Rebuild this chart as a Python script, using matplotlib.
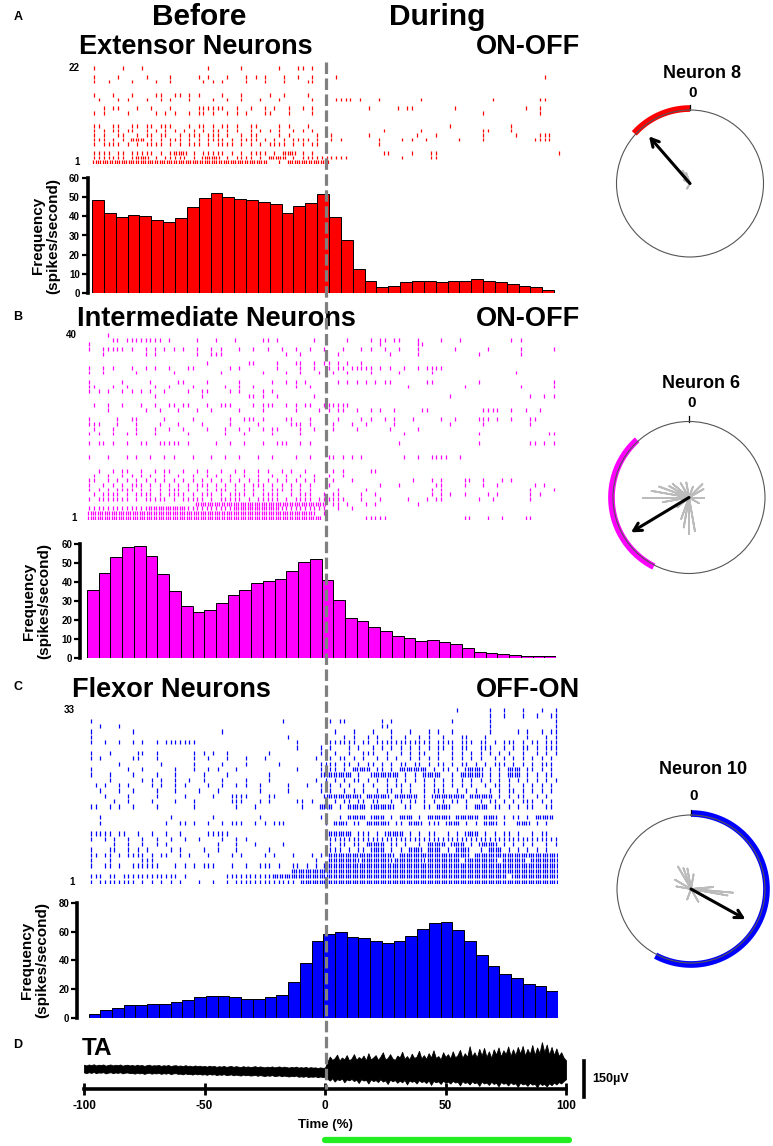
import matplotlib
matplotlib.use('Agg')
import matplotlib.pyplot as plt
from matplotlib.lines import Line2D
import numpy as np

plt.rcParams['font.family'] = ['Liberation Sans', 'DejaVu Sans']

# ---------------- data ----------------
bin_edges = list(range(-100, 101, 5))

freq_extensor = [48.4, 42, 39.9, 40.9, 40.2, 38.1, 36.9, 39.2, 44.8, 49.5,
                 52.1, 50.3, 49, 48.6, 47.4, 46.3, 41.6, 45.3, 47, 51.6,
                 39.9, 27.6, 12.4, 6, 3, 3.5, 5.5, 6, 6, 5.5,
                 6, 6, 7, 6, 5.5, 4.5, 3.5, 2.8, 1.2, 0.1]
freq_intermediate = [35.6, 44.7, 53.2, 58.6, 59.2, 53.5, 44.4, 35, 27.3, 23.9,
                     25.2, 28.9, 32.9, 35.9, 39.3, 40.7, 41.4, 46, 50.4, 52.1,
                     40.8, 30.3, 21.1, 19.2, 16.4, 13.9, 11.6, 10.4, 8.8, 9.2,
                     8.5, 7, 4.9, 3, 2.3, 1.8, 1.6, 1.1, 0.9, 0.9]
freq_flexor = [2.4, 5.2, 7, 8.5, 8.8, 9.2, 9.5, 11, 12.5, 14.3,
               15.4, 15.4, 14.3, 13.3, 13.3, 14.3, 15.9, 25.2, 37.9, 53.7,
               58.4, 59.8, 56.3, 55.4, 53.3, 52.3, 53.5, 57.2, 62.1, 66.1,
               66.6, 61.2, 53.3, 43.5, 36, 30.8, 27.6, 23.4, 22, 18.5]

# raster rows (row 1 first); tokens are 2%-bin indices 0..99 over -100..100 %
# "i" one spike, "a~b" one spike per bin, "a-b" dense (two per bin)
raster_extensor = [
    "0-36 39 41-49",
    "0~6 8 9-11 13 15~19 21 23-26 28 30~33 35 37-40 42 44~47 48 49 50 51 52 53 65 71 72",
    "0~3 5 6 8~12 14 16 17-19 21 23~27 29 31 33~36 38 40-42 44 46 61 62 67 71 72 98",
    "",
    "0 2~5 7 9 11~14 16 18 20~22 24 26~29 31 33 35 37~40 42 44 46 47 60",
    "0~2 4 6 8-10 12 14 16~18 20 22 24~27 29 31~34 36 38 40 42~45 47 50 52 60 65 67 70 77 82 93 94 95 96",
    "0 2 5 6 9 11 12 14 15 18 20 21 22 24 25 26 28 31 33 34 39 41 47 50 58 68 72 82 89 94 95 96",
    "0 2 4 5 7 8 11 13 15 17 19 21 23 25 26 28 30 33 35 37 39 42 44 46 61 69 82 83 88",
    "0 1 4 5 8 9 11 12 14 15 16 20 22 23 25 27 28 30 33 34 39 41 45 75 88",
    "",
    "",
    "0 2 7 13 15 17 20 22 23 25 28 30 32 36 37 41 46 82 94",
    "2 4 5 9 12 16 22 23 24 25 26 27 30 33 36 38 41 44 46 58 64 66 67 76 91 94",
    "",
    "1 5 7 11 14 16 20 25 28 31 35 39 46 51 52 53 54 56 60 69 84 94 95",
    "0 4 8 13 14 17 18 20 22 27 31 37 40 45",
    "",
    "",
    "0 3 8 13 16 23 25 27 32 36 40 45 46",
    "0 5 11 16 22 24 28 32 34 36 40 43 46 51 95",
    "",
    "0 6 10 24 31 39 43 44 46",
]

raster_intermediate = [
    "0-49 59 60 61 62 63 80 81 85 88 93 94",
    "0-47 48 50",
    "0~12 13-20 21~30 31-40 41~50 53 56",
    "23-50 52 53 55 59 61 70",
    "0 2~8 10 12~16 18 20~24 26 28~32 34 36~40 42 44~47 49 50 51 52 53 54 58 62 68 72 74 75 83 86 94",
    "1 3~6 8 10~13 15 17~20 22 24~26 28 30~33 35 37~40 43 45~47 50 52 53 58 61 73 75 77 80 85 87 94 96",
    "0 2 4 6~9 11 13 15 17~19 21 23 25 27~29 31 33 35 37 39~41 43 45 47 53 59 73 75 94 99",
    "0 3 5 7 9~11 13 15 17 19 21 23~25 27 29 31 33 35~37 39 41 43 45 47 51 62 66 74 75 80 84 87 95 97",
    "0 1 4 6 8 10 12 14 16 18 20 22 24 26 28 30 32 34 36 38 40 42 44 46 48 52 56 69 73 75 80 81 84 88 90",
    "1 4 7 9 11 13 16 19 22 25 27 30 33 36 39 42 45 48 51 54",
    "2 5 7 8 11 14 16 17 20 23 25 28 31 33 36 38 41 43 46 52 54 60 61",
    "",
    "",
    "0 4 8 10 13 16 18 22 26 29 32 36 39 44 47 51 52 54 56 58 67 70 73 74 75 76 79",
    "",
    "",
    "0 2 3 5 8 11 12 15 16 17 18 19 21 27 30 33 37 40 41 42 45 47 66 83 94 95 97 99",
    "",
    "0 2 5 8 10 14 21 29 33 39 45 67 83 98 99",
    "1 5 10 14 17 20 25 29 32 34 37 39 40 45 48 52 57 64 70",
    "0 1 2 6 10 15 19 24 30 36 43 44 45 47 52 56 59 65 77 84 94",
    "0 6 9 10 16 22 30 33 34 35 37 42 43 47 53 58 60 63 65 69 75 78 83 84 85 87 90 94 95",
    "",
    "4 12 15 19 23 26 32 37 44 49 51 53 54 57 60 62 65 71 72 84 85 86 87 90 93 96",
    "1 4 7 11 14 17 18 20 21 25 28 29 30 35 37 38 39 42 44 46 47 50 51 52 53 54 55",
    "",
    "14 24 34 35 37 40 48 77 94 97 99",
    "0 2 4 7 9 11 13 16 21 24 25 30 32 37 39",
    "0 1 5 8 14 17 22 29 32 35 44 47 68 80 92 99",
    "0 7 13 19 20 25 32 39 42 44 46 53 55 57 59 61 63 64 72 73 83 99",
    "",
    "0 3 10 18 28 37 42 45 49 52 55 60 66 73 91",
    "0 3 5 9 12 14 17 21 22 30 32 40 45 48 51 53 54 56 57 58 59 60 62 64 67 70 72 73 74 75",
    "25 34 35 40 44 45 48 50 51 53 55 58",
    "",
    "3 12 14 23 26 27 28 42 45 53 64 70 83 92",
    "0 3 4 5 6 7 9 12 14 16 18 20 23 26 28 32 35 38 41 44 47 50 54 58 60 63 66 70 78 85 92 99",
    "0 62 70 71",
    "5 6 8 9 10 11 12 13 14 15 17 23 27 31 37 38 40 48 55 60 62 63 65 66 70 75 79 90 92",
    "4",
]

raster_flexor = [
    "0 2~9 11 13 15 17 19 23 26 29 31~43 45-99",
    "0~2 4 5 7~18 20 29~38 39-50 51-88 90-99",
    "43-99",
    "0 3 4 6 9 10 11 12 13 14 18 20 22 24 25 26 30 33 36 37 38 40 43 44 46 48 50-99",
    "0 4 11 12 13 48 51-56 57 58-63 64 65-70 71 72-78 80-86 88-92 94-99",
    "0 1 3 4 6 8 9 10 11 13 15 16 19 21 25 30 32 37 39 43 47 49 51-64 66-80 82-99",
    "0 4 5 8 10 12 17 19 24 27 31 38 51 52 53 55 57 58 60-62 64 66 68-70 72-74 76 78-80 83 85-87 89 91 93 95 97",
    "5 8 11 14 16 27 31 35 41 51 53 54 56 57 59-62 64 65 67 70 72-75 77-79 81 83-86 88 90 92 94 97 99",
    "0 3 5 8 11 14 17 20 23 28 31 33 51~99",
    "0 1 2 3 4 6 7 10 13 16 19 25 26 27 28 29 51-55 57 58 59 61 63-66 68 70 72 73 76 78 80-82 84 86 88 89 91 94 96 97",
    "",
    "2 16 19 20 22 25 28 30 31 32 35 37 39 40 41 50 52-54 56 57 59-63 65 66 68-70 72 73 74 76-78 80 82 84-86 88 91-93 95 97",
    "2 17 26 36 49 50 53 55-58 60-62 64 66-68 70 72-76 78-82 84-86 88 90 91 93 95-98",
    "",
    "0 1 4 6 9 14 22 31 35 45 49-51 53 55-58 60-64 67 68 71 72 74-76 80 82-84 86 87 89 91 93 94 97 98",
    "5 8 13 18 22 30 31 32 36 38 44 45 47 50 52 54 55 57 58 60 61 64 66 68 69 71 73 75 77 78 80 83 85 86 88 90 92 93 94 96 98",
    "3 8 14 20 26 30 31 32 33 38 39 50-57 59-63 65-69 71 73-79 81-85 87 89 91 92 95 97",
    "2 6 9 14 18 23 27 36 42 49 51 54 56 58 61 63 64 66 68 71 73 74 75 78 80 82 85 87 89 90 92 94 96 98",
    "1 3 6 8 13 15 18 20 25 28 31 33 36 42 46 49 51 53 55 58 60 63 65 66 68 71 73 75 77 79 81 84 86 87 89 92 94 96 98",
    "4 11 13 15 18 21 24 28 33 38 48 50 52 54 56 57 59 61 63 65 67 69 71 73 75 77 79 81 83 85 87 89 91 93 95 97 99",
    "0 4 9 14 18 24 29 38 49 50-55 57 60-65 67 69 71-74 77 79-83 85 87 89-91 93 95 97 98",
    "0 8 11 18 22 25 27 31 44 49 51 52 54 56-59 61 62 64 66-71 73 75 76 78 80-83 85 87 89-91 93 94 96 98",
    "6 15 22 28 33 40 49 50 51 52 54 55 57 59 60 62 64 66 67 69 70 72 74 75 77 79 80 82 84 86 87 88 90 92 94 96 97 98",
    "0 2 9 10 14 22 25 29 33 37 48 51 53 54 56 58 61 63 65 68 70 72 74 77 79 81 83 86 88 90 92 94 96 98",
    "0 4 10 11 14 22 24 26 29 38 49 52 55 58 59 60 63 66 68 70 71 74 77 79 81 83 85 87 89 92 95 97 99",
    "44 49 51 55 57 60 62 64 66 68 70 72 74 75 77 79 80 83 84 85 88 90 92 93 95 97 98 99",
    "0 3 6 9 11 14 16 17 18 19 20 21 22 44 51 52 53 54 55 56 58 59 61 62 63 64 65 66 67 68 69 70 71 72 74 75 76 77 79 80 81 83 84 86 88 89 90 92 94 95 97 98 99",
    "0 42 54 56 59 61 64 67 70 72 75 79 80 84 93 97 99",
    "0 9 28 52 56 60 64 68 72 74 77 85 91 93 96 98 99",
    "2 6 62 63 85 99",
    "0 41 51 53 54 62 64 77 85 99",
    "85 88 92 95 98 99",
    "78 85 88 92 96 99",
]

# TA EMG envelope (microvolts) at 1 % steps, -100..0 and 1..100
emg_upper_before = [18, 15, 19, 16, 20, 15, 18, 17, 19, 14,
                    17, 19, 15, 18, 16, 19, 14, 17, 18, 15,
                    17, 14, 18, 15, 17, 13, 16, 18, 14, 16,
                    15, 17, 13, 16, 14, 17, 12, 15, 16, 13,
                    15, 12, 16, 13, 14, 11, 15, 12, 14, 11,
                    13, 10, 14, 11, 13, 9, 12, 10, 13, 9,
                    11, 13, 9, 12, 10, 8, 12, 9, 11, 8,
                    10, 12, 8, 11, 9, 7, 10, 8, 11, 7,
                    9, 11, 7, 10, 8, 6, 9, 7, 10, 6,
                    8, 6, 9, 5, 8, 6, 7, 4, 7, 5, 6]
emg_lower_before = [-14, -17, -13, -16, -12, -17, -14, -15, -13, -18,
                    -15, -13, -17, -14, -16, -13, -18, -15, -14, -17,
                    -16, -19, -15, -18, -16, -20, -17, -15, -19, -17,
                    -18, -16, -20, -17, -19, -16, -21, -18, -17, -20,
                    -19, -22, -18, -21, -20, -23, -19, -22, -20, -23,
                    -21, -24, -20, -23, -21, -25, -22, -24, -21, -25,
                    -24, -22, -26, -23, -25, -27, -23, -26, -24, -27,
                    -26, -24, -28, -25, -27, -29, -26, -28, -25, -29,
                    -28, -26, -30, -27, -29, -31, -28, -30, -27, -32,
                    -30, -32, -29, -33, -31, -32, -30, -34, -31, -33, -32]
emg_upper_during = [30, 52, 38, 45, 60, 35, 48, 40, 58, 36,
                    44, 62, 38, 50, 42, 56, 36, 66, 40, 48,
                    58, 38, 52, 70, 40, 46, 62, 44, 38, 56,
                    48, 72, 42, 54, 40, 64, 46, 52, 76, 44,
                    58, 42, 66, 48, 78, 46, 54, 40, 70, 50,
                    62, 44, 74, 48, 58, 80, 46, 66, 50, 95,
                    52, 70, 48, 84, 56, 88, 50, 74, 46, 82,
                    60, 90, 52, 78, 62, 94, 54, 82, 58, 92,
                    64, 96, 56, 84, 62, 100, 58, 90, 66, 112,
                    70, 102, 60, 92, 58, 86, 54, 70, 48, 36]
emg_lower_during = [-40, -48, -38, -52, -42, -46, -39, -55, -43, -47,
                    -41, -50, -44, -58, -42, -48, -45, -60, -43, -50,
                    -46, -54, -42, -52, -47, -62, -44, -51, -46, -57,
                    -48, -55, -45, -64, -47, -53, -49, -60, -46, -54,
                    -50, -58, -47, -66, -49, -55, -51, -62, -48, -57,
                    -52, -60, -49, -56, -53, -68, -50, -58, -54, -64,
                    -51, -59, -55, -70, -52, -60, -56, -66, -53, -62,
                    -57, -72, -54, -61, -58, -68, -55, -63, -59, -74,
                    -56, -64, -60, -70, -57, -65, -61, -76, -58, -66,
                    -62, -72, -59, -67, -56, -64, -54, -60, -50, -42]

# circular plots: arc (deg, clockwise from 0), mean vector, rose petals
neuron_names = ["Neuron 8", "Neuron 6", "Neuron 10"]
arc_ranges = [(312, 360), (207, 318), (0, 208)]
vector_angles = [319, 239, 119]
vector_lengths = [0.85, 0.89, 0.84]
petals_n8 = [(320, 0.22), (330, 0.2), (340, 0.15), (300, 0.1), (210, 0.08)]
petals_n6 = [(270, 0.6), (280, 0.5), (290, 0.42), (260, 0.35), (300, 0.3), (310, 0.28),
             (330, 0.22), (350, 0.2), (20, 0.15), (45, 0.25), (60, 0.22), (90, 0.2),
             (120, 0.15), (170, 0.45), (180, 0.48), (190, 0.4), (200, 0.3), (230, 0.2)]
petals_n10 = [(95, 0.57), (100, 0.5), (85, 0.3), (330, 0.35), (340, 0.3), (350, 0.28),
              (10, 0.2), (300, 0.25), (280, 0.2), (200, 0.15), (150, 0.2), (120, 0.3)]

time_ticks = [-100, -50, 0, 50, 100]

# ---------------- figure ----------------
W, H = 773, 1146
fig = plt.figure(figsize=(W / 100, H / 100), dpi=100)


def add_ax(l, t, r, b, **kw):
    return fig.add_axes([l / W, 1 - b / H, (r - l) / W, (b - t) / H], **kw)


def ftext(x, y, s, **kw):
    kw.setdefault('fontweight', 'bold')
    return fig.text(x / W, 1 - y / H, s, **kw)


centers = [(bin_edges[i] + bin_edges[i + 1]) / 2 for i in range(len(bin_edges) - 1)]


def hist_panel(vals, color, spine_x, bar_l, bar_r, top_px, bot_px, ymax, ystep):
    ax = add_ax(spine_x, top_px, bar_r, bot_px)
    off = (bar_l - spine_x) * 200 / (bar_r - bar_l)
    ax.set_xlim(-100 - off, 100)
    ax.set_ylim(0, ymax)
    ax.bar(centers, vals, width=5, color=color, edgecolor='black', linewidth=0.7)
    for s in ['top', 'right', 'bottom']:
        ax.spines[s].set_visible(False)
    ax.spines['left'].set_linewidth(2.6)
    ax.set_xticks([])
    ax.set_yticks(list(range(0, ymax + 1, ystep)))
    ax.tick_params(axis='y', length=4, width=1.6, labelsize=7, pad=1.5)
    for lab in ax.get_yticklabels():
        lab.set_fontweight('bold')
    ax.patch.set_alpha(0)
    return ax


def parse(row):
    xs = []
    for tok in row.split():
        if '-' in tok:
            a, b = map(int, tok.split('-'))
            for i in range(a, b + 1):
                lo = -100 + 2 * i
                xs += [lo + 0.5, lo + 1.5]
        elif '~' in tok:
            a, b = map(int, tok.split('~'))
            for i in range(a, b + 1):
                xs.append(-100 + 2 * i + 1)
        else:
            xs.append(-100 + 2 * int(tok) + 1)
    return xs


def raster_panel(rows, color, spine_x, bar_l, bar_r, top_row, bot_row, label_x):
    n = len(rows)
    pitch = (bot_row - top_row) / (n - 1)
    ax = add_ax(spine_x, top_row - pitch / 2, bar_r, bot_row + pitch / 2)
    off = (bar_l - spine_x) * 200 / (bar_r - bar_l)
    ax.set_xlim(-100 - off, 100)
    ax.set_ylim(0.5, n + 0.5)
    for i, row in enumerate(rows):
        xs = parse(row)
        if xs:
            ax.vlines(xs, i + 1 - 0.4, i + 1 + 0.4, color=color, linewidth=0.9)
    ax.axis('off')
    ftext(label_x, top_row, str(n), ha='right', va='center', fontsize=7)
    ftext(label_x, bot_row, '1', ha='right', va='center', fontsize=7)
    return ax


# Panel A
raster_panel(raster_extensor, '#FF0000', 87.5, 92, 566, 68, 162, 80)
hist_panel(freq_extensor, '#FF0000', 87.5, 92, 566, 178.3, 292.7, 60, 10)
# Panel B
raster_panel(raster_intermediate, '#FF00FF', 80, 87, 556, 335, 517.7, 77)
hist_panel(freq_intermediate, '#FF00FF', 80, 87, 556, 544, 657.7, 60, 10)
# Panel C
raster_panel(raster_flexor, '#0000FF', 77, 88.5, 558, 710, 881.7, 75)
hist_panel(freq_flexor, '#0000FF', 77, 88.5, 558, 903.3, 1017.5, 80, 20)

# y labels
for xc, yc in [(45.5, 235.5), (36.5, 601), (34.5, 960)]:
    ftext(xc, yc, 'Frequency\n(spikes/second)', rotation=90, ha='center', va='center',
          fontsize=11, linespacing=1.05)

# Panel D: TA EMG
axd = add_ax(84, 1040, 566, 1089)
t = np.arange(-100, 101)
upper = emg_upper_before + emg_upper_during
lower = emg_lower_before + emg_lower_during
axd.fill_between(t, lower, upper, color='black', linewidth=0.6)
axd.set_xlim(-100, 100)
axd.set_ylim(-83, 121)
for s in ['top', 'right', 'left']:
    axd.spines[s].set_visible(False)
axd.spines['bottom'].set_linewidth(2.6)
axd.set_yticks([])
axd.set_xticks(time_ticks)
axd.set_xticklabels([str(v) for v in time_ticks])
axd.tick_params(axis='x', direction='inout', length=8, width=2, labelsize=8.5, pad=4)
for lab in axd.get_xticklabels():
    lab.set_fontweight('bold')
axd.patch.set_alpha(0)
axd.plot([107.5, 107.5], [-117, 33], color='black', lw=2.6, clip_on=False)
ftext(592, 1079, '150µV', ha='left', va='center', fontsize=9)
ftext(325.5, 1125, 'Time (%)', ha='center', va='center', fontsize=9.5)
fig.add_artist(Line2D([325 / W, 569 / W], [1 - 1140 / H] * 2, color='#22EE22', lw=4.5,
                      solid_capstyle='round'))
ftext(82, 1055, 'TA', ha='left', va='baseline', fontsize=17.5)

# Dashed vertical line across panels
fig.add_artist(Line2D([325.5 / W] * 2, [1 - 62 / H, 1 - 1089 / H], color='#808080', lw=2.3,
                      dashes=(3.6, 1.4), zorder=10))

# Titles
ftext(199, 25, 'Before', ha='center', va='baseline', fontsize=21.5)
ftext(437, 25, 'During', ha='center', va='baseline', fontsize=21.5)
ftext(79, 53.5, 'Extensor Neurons', ha='left', va='baseline', fontsize=19.5)
ftext(580, 53.5, 'ON-OFF', ha='right', va='baseline', fontsize=19.5)
ftext(77, 326, 'Intermediate Neurons', ha='left', va='baseline', fontsize=19.5)
ftext(580, 326, 'ON-OFF', ha='right', va='baseline', fontsize=19.5)
ftext(72, 697, 'Flexor Neurons', ha='left', va='baseline', fontsize=19.5)
ftext(580, 697, 'OFF-ON', ha='right', va='baseline', fontsize=19.5)
for lab, y in [('A', 17), ('B', 317), ('C', 687), ('D', 1045)]:
    ftext(18, y, lab, ha='center', va='center', fontsize=9)

# Circular plots
circ = [(690, 183.5, 73.5, '#FF0000', petals_n8, 73, 93),
        (689, 497.5, 76, '#FF00FF', petals_n6, 383, 403),
        (691, 889, 74, '#0000FF', petals_n10, 769, 796)]
for k, (cx, cy, r, col, petals, ty, zy) in enumerate(circ):
    ax = add_ax(cx - r, cy - r, cx + r, cy + r, projection='polar')
    ax.set_theta_zero_location('N')
    ax.set_theta_direction(-1)
    ax.set_ylim(0, 1)
    ax.grid(False)
    ax.set_xticks([])
    ax.set_yticks([])
    ax.spines['polar'].set_linewidth(0.8)
    ax.spines['polar'].set_color('#555555')
    ax.patch.set_alpha(0)
    for a, L in petals:
        ax.plot(np.radians([a - 2.5, a, a + 2.5]), [0, L, 0], color='#BBBBBB', lw=1.3)
    a0, a1 = arc_ranges[k]
    th = np.radians(np.linspace(a0, a1, 120))
    ax.plot(th, np.full_like(th, 1.02), color=col, lw=4.8, solid_capstyle='butt', clip_on=False)
    ax.plot([0, 0], [1.0, 1.07], color='black', lw=0.9, clip_on=False)
    ax.annotate('', xy=(np.radians(vector_angles[k]), vector_lengths[k]), xytext=(0, 0),
                arrowprops=dict(arrowstyle='->,head_length=0.55,head_width=0.3', color='black',
                                lw=2.2, shrinkA=0, shrinkB=0))
    ftext(cx + 12, ty, neuron_names[k], ha='center', va='center', fontsize=13)
    ftext(cx + 3, zy, '0', ha='center', va='center', fontsize=11)

fig.savefig('out.png', dpi=100)
